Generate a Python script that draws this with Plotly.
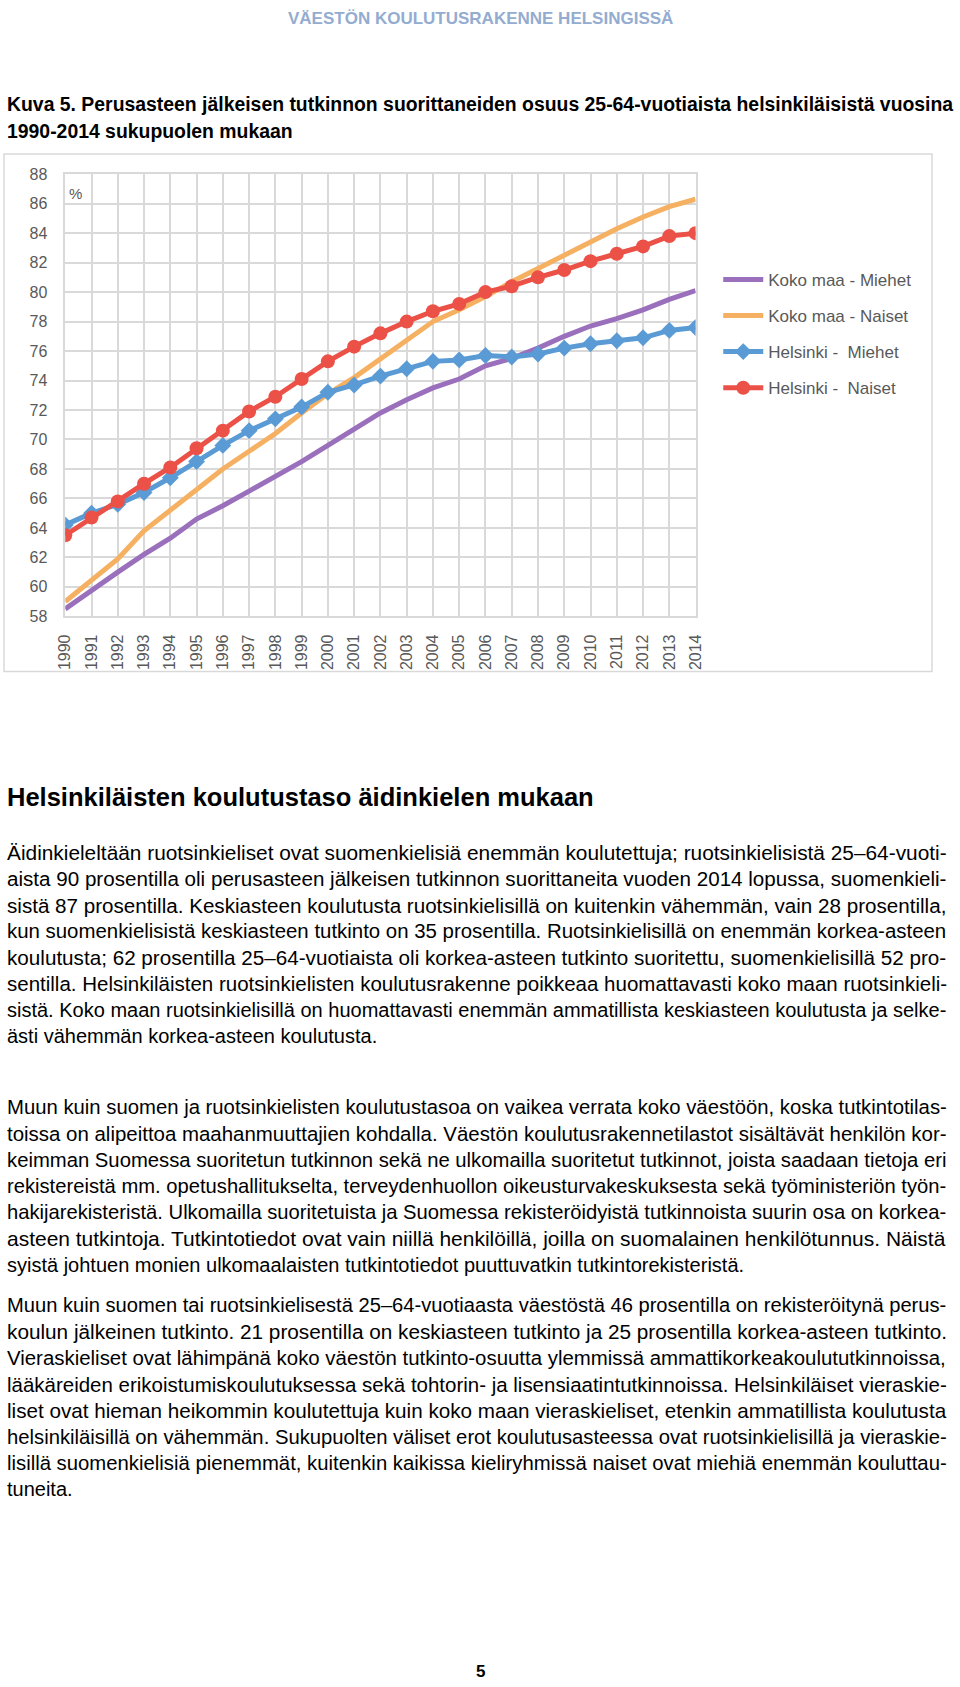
import plotly.graph_objects as go

W, H = 960, 1687
# The rendered paper area sits 8px inside the page on every side, so page
# pixel positions are converted to paper fractions relative to that area.
PAD = 8

years = list(range(1990, 2015))
koko_miehet = [58.5, 59.8, 61.0, 62.2, 63.3, 64.6, 65.5, 66.5, 67.5, 68.5, 69.6, 70.7, 71.8, 72.7, 73.5,
               74.1, 75.0, 75.5, 76.2, 77.0, 77.7, 78.2, 78.8, 79.5, 80.1]
koko_naiset = [59.0, 60.4, 61.9, 63.8, 65.2, 66.7, 68.0, 69.2, 70.4, 71.8, 73.1, 74.2, 75.5, 76.8, 78.0,
               78.8, 79.7, 80.7, 81.6, 82.5, 83.4, 84.3, 85.1, 85.8, 86.3]
hki_miehet = [64.2, 65.0, 65.6, 66.4, 67.4, 68.5, 69.6, 70.6, 71.4, 72.2, 73.2, 73.7, 74.3, 74.8, 75.3,
              75.4, 75.7, 75.6, 75.8, 76.2, 76.5, 76.7, 76.9, 77.4, 77.6]
hki_naiset = [63.5, 64.7, 65.8, 67.0, 68.1, 69.4, 70.6, 71.9, 72.9, 74.1, 75.3, 76.3, 77.2, 78.0, 78.7,
              79.2, 80.0, 80.4, 81.0, 81.5, 82.1, 82.6, 83.1, 83.8, 84.0]
series_names = ["Koko maa - Miehet", "Koko maa - Naiset", "Helsinki -  Miehet", "Helsinki -  Naiset"]
y_ticks = list(range(58, 89, 2))

header = "VÄESTÖN KOULUTUSRAKENNE HELSINGISSÄ"
title_lines = ["Kuva 5. Perusasteen jälkeisen tutkinnon suorittaneiden osuus 25-64-vuotiaista helsinkiläisistä vuosina",
               "1990-2014 sukupuolen mukaan"]
heading = "Helsinkiläisten koulutustaso äidinkielen mukaan"
para1 = [
    "Äidinkieleltään ruotsinkieliset ovat suomenkielisiä enemmän koulutettuja; ruotsinkielisistä 25–64-vuoti-",
    "aista 90 prosentilla oli perusasteen jälkeisen tutkinnon suorittaneita vuoden 2014 lopussa, suomenkieli-",
    "sistä 87 prosentilla. Keskiasteen koulutusta ruotsinkielisillä on kuitenkin vähemmän, vain 28 prosentilla,",
    "kun suomenkielisistä keskiasteen tutkinto on 35 prosentilla. Ruotsinkielisillä on enemmän korkea-asteen",
    "koulutusta; 62 prosentilla 25–64-vuotiaista oli korkea-asteen tutkinto suoritettu, suomenkielisillä 52 pro-",
    "sentilla. Helsinkiläisten ruotsinkielisten koulutusrakenne poikkeaa huomattavasti koko maan ruotsinkieli-",
    "sistä. Koko maan ruotsinkielisillä on huomattavasti enemmän ammatillista keskiasteen koulutusta ja selke-",
    "ästi vähemmän korkea-asteen koulutusta.",
]
para2 = [
    "Muun kuin suomen ja ruotsinkielisten koulutustasoa on vaikea verrata koko väestöön, koska tutkintotilas-",
    "toissa on alipeittoa maahanmuuttajien kohdalla. Väestön koulutusrakennetilastot sisältävät henkilön kor-",
    "keimman Suomessa suoritetun tutkinnon sekä ne ulkomailla suoritetut tutkinnot, joista saadaan tietoja eri",
    "rekistereistä mm. opetushallitukselta, terveydenhuollon oikeusturvakeskuksesta sekä työministeriön työn-",
    "hakijarekisteristä. Ulkomailla suoritetuista ja Suomessa rekisteröidyistä tutkinnoista suurin osa on korkea-",
    "asteen tutkintoja. Tutkintotiedot ovat vain niillä henkilöillä, joilla on suomalainen henkilötunnus. Näistä",
    "syistä johtuen monien ulkomaalaisten tutkintotiedot puuttuvatkin tutkintorekisteristä.",
]
para3 = [
    "Muun kuin suomen tai ruotsinkielisestä 25–64-vuotiaasta väestöstä 46 prosentilla on rekisteröitynä perus-",
    "koulun jälkeinen tutkinto. 21 prosentilla on keskiasteen tutkinto ja 25 prosentilla korkea-asteen tutkinto.",
    "Vieraskieliset ovat lähimpänä koko väestön tutkinto-osuutta ylemmissä ammattikorkeakoulututkinnoissa,",
    "lääkäreiden erikoistumiskoulutuksessa sekä tohtorin- ja lisensiaatintutkinnoissa. Helsinkiläiset vieraskie-",
    "liset ovat hieman heikommin koulutettuja kuin koko maan vieraskieliset, etenkin ammatillista koulutusta",
    "helsinkiläisillä on vähemmän. Sukupuolten väliset erot koulutusasteessa ovat ruotsinkielisillä ja vieraskie-",
    "lisillä suomenkielisiä pienemmät, kuitenkin kaikissa kieliryhmissä naiset ovat miehiä enemmän kouluttau-",
    "tuneita.",
]
page_no = "5"

SANS = "Liberation Sans, Arial, Helvetica, sans-serif"
GRID = "#D9D9D9"
TXT = "#595959"

# Approximate Arial / Liberation Sans advance widths (per 1000 em) used to justify body lines
_AW = {' ': 278, '%': 889, ',': 278, '-': 333, '.': 278, ';': 278, ':': 278, '–': 556,
       'A': 667, 'B': 667, 'C': 722, 'D': 722, 'E': 667, 'F': 611, 'G': 778, 'H': 722, 'I': 278,
       'J': 500, 'K': 667, 'L': 556, 'M': 833, 'N': 722, 'O': 778, 'P': 667, 'Q': 778, 'R': 722,
       'S': 667, 'T': 611, 'U': 722, 'V': 667, 'W': 944, 'X': 667, 'Y': 667, 'Z': 611, 'Ä': 667,
       'Ö': 778, 'a': 556, 'b': 556, 'c': 500, 'd': 556, 'e': 556, 'f': 278, 'g': 556, 'h': 556,
       'i': 222, 'j': 222, 'k': 500, 'l': 222, 'm': 833, 'n': 556, 'o': 556, 'p': 556, 'q': 556,
       'r': 333, 's': 500, 't': 278, 'u': 556, 'v': 500, 'w': 722, 'x': 500, 'y': 500, 'z': 500,
       'ä': 556, 'ö': 556, 'å': 556}

def text_em(s):
    return sum(_AW.get(c, 556) for c in s) / 1000.0

def px(p):
    return (p - PAD) / (W - 2 * PAD)

def py(p):
    return 1 - (p - PAD) / (H - 2 * PAD)

fig = go.Figure()
fig.add_trace(go.Scatter(x=years, y=koko_miehet, name=series_names[0], mode="lines",
                         line=dict(color="#9A6FBC", width=5), legendgroup="a"))
fig.add_trace(go.Scatter(x=years, y=koko_naiset, name=series_names[1], mode="lines",
                         line=dict(color="#F6B061", width=5), legendgroup="b"))
fig.add_trace(go.Scatter(x=years, y=hki_miehet, name=series_names[2], mode="lines+markers",
                         line=dict(color="#5B9BD5", width=5),
                         marker=dict(symbol="diamond", size=13, color="#5B9BD5"), legendgroup="c"))
fig.add_trace(go.Scatter(x=years, y=hki_naiset, name=series_names[3], mode="lines+markers",
                         line=dict(color="#EB5147", width=5),
                         marker=dict(symbol="circle", size=14, color="#EB5147"), legendgroup="d"))

x0, x1 = 64.3, 695.3
y0, y1 = 174.3, 616.7
fig.update_layout(
    width=W, height=H, autosize=False,
    margin=dict(l=0, r=0, t=0, b=0),
    paper_bgcolor="white", plot_bgcolor="white",
    showlegend=True,
    legend=dict(x=px(718), y=py(262), xanchor="left", yanchor="top",
                font=dict(family=SANS, size=17, color=TXT),
                traceorder="grouped", tracegroupgap=11, itemwidth=40,
                bgcolor="rgba(0,0,0,0)"),
    xaxis=dict(domain=[px(x0), px(x1)], range=[1990, 2014], tickmode="array",
               tickvals=years, ticktext=[str(y) for y in years], tickangle=-90,
               showgrid=True, gridcolor=GRID, gridwidth=1.5,
               showline=True, linecolor=GRID, linewidth=1.5, mirror=True,
               ticks="outside", ticklen=10, tickcolor="rgba(0,0,0,0)", zeroline=False,
               tickfont=dict(family=SANS, size=16, color=TXT)),
    yaxis=dict(domain=[py(y1), py(y0)], range=[58, 88], tickmode="array",
               tickvals=y_ticks, ticktext=[str(v) for v in y_ticks],
               showgrid=True, gridcolor=GRID, gridwidth=1.5,
               showline=True, linecolor=GRID, linewidth=1.5, mirror=True,
               ticks="outside", ticklen=13, tickcolor="rgba(0,0,0,0)", zeroline=False,
               tickfont=dict(family=SANS, size=16, color=TXT)),
)

shapes = [dict(type="rect", xref="paper", yref="paper", x0=px(3), x1=px(932), y0=py(672), y1=py(154),
               line=dict(color=GRID, width=1.5), fillcolor="rgba(0,0,0,0)", layer="below")]
fig.update_layout(shapes=shapes)

LX = 3.5
TARGET = 940
ann = []
ann.append(dict(text="<b>%s</b>" % header, x=px(480), y=py(19), xanchor="center", yanchor="middle",
                font=dict(family=SANS, size=17, color="#93ACD0")))
for i, t in enumerate(title_lines):
    ann.append(dict(text="<b>%s</b>" % t, x=px(LX), y=py(104 + 27 * i), xanchor="left", yanchor="middle",
                    align="left", font=dict(family=SANS, size=19.4, color="black")))
ann.append(dict(text="%", x=px(66), y=py(194), xanchor="left", yanchor="middle",
                font=dict(family=SANS, size=15, color=TXT)))
ann.append(dict(text="<b>%s</b>" % heading, x=px(LX), y=py(797), xanchor="left", yanchor="middle",
                align="left", font=dict(family=SANS, size=25.5, color="black")))
for start, lines in [(853, para1), (1108, para2), (1306, para3)]:
    for i, t in enumerate(lines):
        if i < len(lines) - 1:
            size = min(21.0, max(17.0, TARGET / text_em(t)))
        else:
            size = 20.0
        ann.append(dict(text=t, x=px(LX), y=py(start + 26.3 * i), xanchor="left", yanchor="middle",
                        align="left", font=dict(family=SANS, size=size, color="black")))
ann.append(dict(text="<b>%s</b>" % page_no, x=px(480), y=py(1672), xanchor="center", yanchor="middle",
                font=dict(family=SANS, size=17, color="black")))
for a in ann:
    a.update(xref="paper", yref="paper", showarrow=False)
fig.update_layout(annotations=ann)

fig.write_html("out.html")
